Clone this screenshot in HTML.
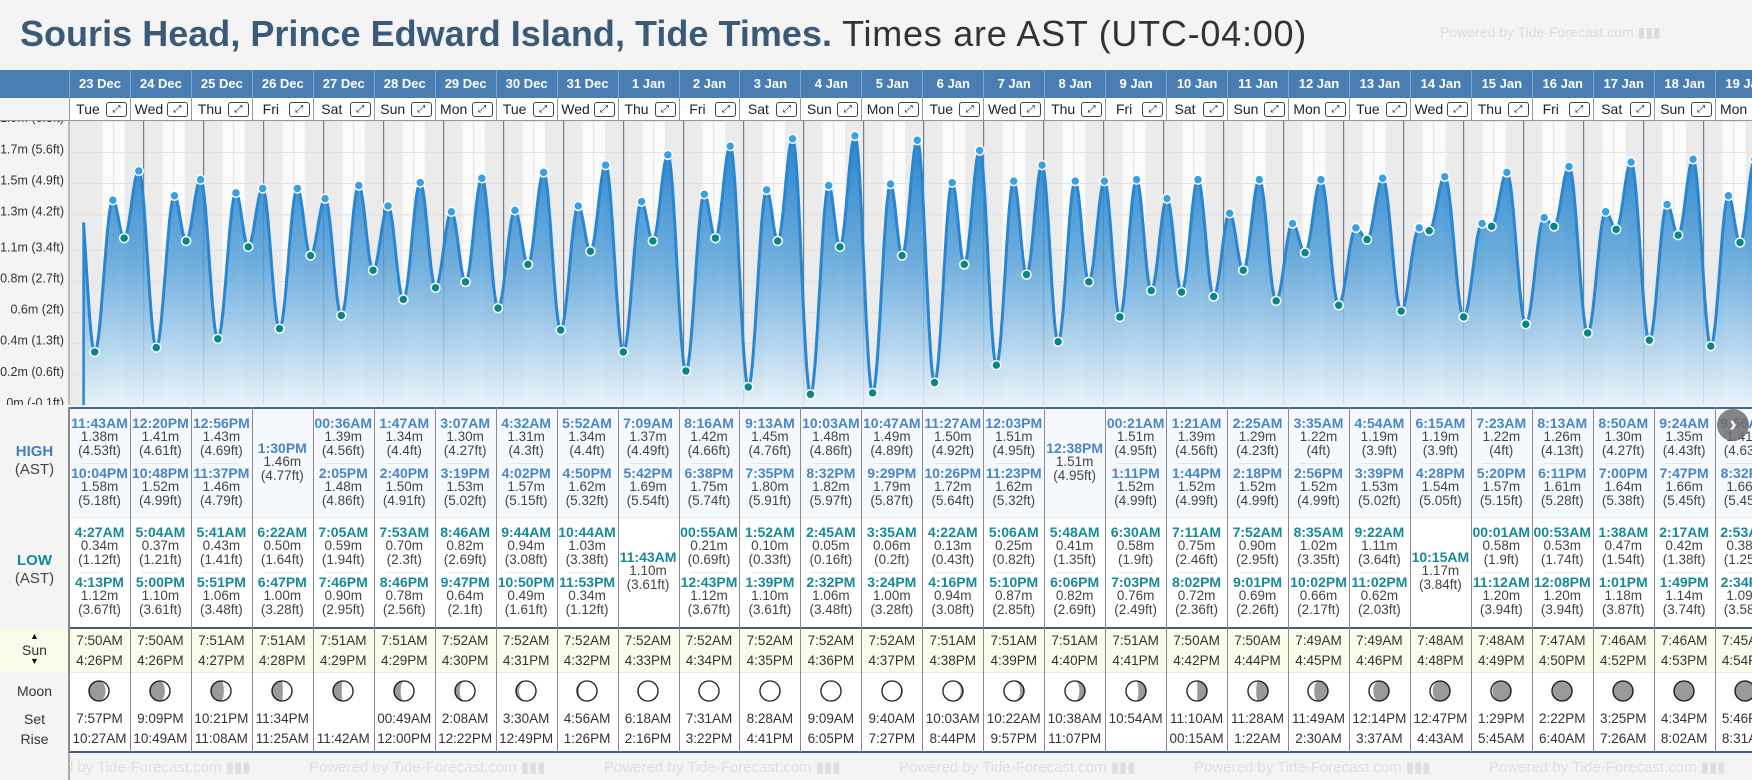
<!DOCTYPE html>
<html><head><meta charset="utf-8">
<style>
*{box-sizing:border-box;margin:0;padding:0}
body{width:1752px;height:780px;overflow:hidden;background:#f4f4f4;font-family:"Liberation Sans",Arial,sans-serif}
#root{position:relative;width:1752px;height:780px;overflow:hidden;background:#f4f4f4}
.a{position:absolute;white-space:nowrap}
.c{text-align:center}
</style></head>
<body>
<div id="root">
<div class="a" id="title" style="left:20px;top:13px;font-size:36px;line-height:42px"><span id="t1" style="font-weight:bold;color:#3b5a78">Souris Head, Prince Edward Island, Tide Times.</span><span id="t2" style="color:#333"> Times are AST (UTC-04:00)</span></div>
<div class="a" style="left:1440px;top:24px;font-size:14px;color:#dcdcdc">Powered by Tide-Forecast.com ▮▮▮</div>
<svg id="chart" class="a" style="left:0;top:0" width="1752" height="780"></svg>
</div>
<script>
const dates=['23 Dec','24 Dec','25 Dec','26 Dec','27 Dec','28 Dec','29 Dec','30 Dec','31 Dec','1 Jan','2 Jan','3 Jan','4 Jan','5 Jan','6 Jan','7 Jan','8 Jan','9 Jan','10 Jan','11 Jan','12 Jan','13 Jan','14 Jan','15 Jan','16 Jan','17 Jan','18 Jan','19 Jan'];
const weekdays=['Tue','Wed','Thu','Fri','Sat','Sun','Mon','Tue','Wed','Thu','Fri','Sat','Sun','Mon','Tue','Wed','Thu','Fri','Sat','Sun','Mon','Tue','Wed','Thu','Fri','Sat','Sun','Mon'];
const highTimes=[['11:43AM','10:04PM'],['12:20PM','10:48PM'],['12:56PM','11:37PM'],['1:30PM'],['00:36AM','2:05PM'],['1:47AM','2:40PM'],['3:07AM','3:19PM'],['4:32AM','4:02PM'],['5:52AM','4:50PM'],['7:09AM','5:42PM'],['8:16AM','6:38PM'],['9:13AM','7:35PM'],['10:03AM','8:32PM'],['10:47AM','9:29PM'],['11:27AM','10:26PM'],['12:03PM','11:23PM'],['12:38PM'],['00:21AM','1:11PM'],['1:21AM','1:44PM'],['2:25AM','2:18PM'],['3:35AM','2:56PM'],['4:54AM','3:39PM'],['6:15AM','4:28PM'],['7:23AM','5:20PM'],['8:13AM','6:11PM'],['8:50AM','7:00PM'],['9:24AM','7:47PM'],['9:56AM','8:32PM']];
const highM=[[1.38,1.58],[1.41,1.52],[1.43,1.46],[1.46],[1.39,1.48],[1.34,1.50],[1.30,1.53],[1.31,1.57],[1.34,1.62],[1.37,1.69],[1.42,1.75],[1.45,1.80],[1.48,1.82],[1.49,1.79],[1.50,1.72],[1.51,1.62],[1.51],[1.51,1.52],[1.39,1.52],[1.29,1.52],[1.22,1.52],[1.19,1.53],[1.19,1.54],[1.22,1.57],[1.26,1.61],[1.30,1.64],[1.35,1.66],[1.41,1.66]];
const lowTimes=[['4:27AM','4:13PM'],['5:04AM','5:00PM'],['5:41AM','5:51PM'],['6:22AM','6:47PM'],['7:05AM','7:46PM'],['7:53AM','8:46PM'],['8:46AM','9:47PM'],['9:44AM','10:50PM'],['10:44AM','11:53PM'],['11:43AM'],['00:55AM','12:43PM'],['1:52AM','1:39PM'],['2:45AM','2:32PM'],['3:35AM','3:24PM'],['4:22AM','4:16PM'],['5:06AM','5:10PM'],['5:48AM','6:06PM'],['6:30AM','7:03PM'],['7:11AM','8:02PM'],['7:52AM','9:01PM'],['8:35AM','10:02PM'],['9:22AM','11:02PM'],['10:15AM'],['00:01AM','11:12AM'],['00:53AM','12:08PM'],['1:38AM','1:01PM'],['2:17AM','1:49PM'],['2:53AM','2:34PM']];
const lowM=[[0.34,1.12],[0.37,1.10],[0.43,1.06],[0.50,1.00],[0.59,0.90],[0.70,0.78],[0.82,0.64],[0.94,0.49],[1.03,0.34],[1.10],[0.21,1.12],[0.10,1.10],[0.05,1.06],[0.06,1.00],[0.13,0.94],[0.25,0.87],[0.41,0.82],[0.58,0.76],[0.75,0.72],[0.90,0.69],[1.02,0.66],[1.11,0.62],[1.17],[0.58,1.20],[0.53,1.20],[0.47,1.18],[0.42,1.14],[0.38,1.09]];
const lowFt=[['1.12','3.67'],['1.21','3.61'],['1.41','3.48'],['1.64','3.28'],['1.94','2.95'],['2.3','2.56'],['2.69','2.1'],['3.08','1.61'],['3.38','1.12'],['3.61'],['0.69','3.67'],['0.33','3.61'],['0.16','3.48'],['0.2','3.28'],['0.43','3.08'],['0.82','2.85'],['1.35','2.69'],['1.9','2.49'],['2.46','2.36'],['2.95','2.26'],['3.35','2.17'],['3.64','2.03'],['3.84'],['1.9','3.94'],['1.74','3.94'],['1.54','3.87'],['1.38','3.74'],['1.25','3.58']];
const highFt=[['4.53','5.18'],['4.61','4.99'],['4.69','4.79'],['4.77'],['4.56','4.86'],['4.4','4.91'],['4.27','5.02'],['4.3','5.15'],['4.4','5.32'],['4.49','5.54'],['4.66','5.74'],['4.76','5.91'],['4.86','5.97'],['4.89','5.87'],['4.92','5.64'],['4.95','5.32'],['4.95'],['4.95','4.99'],['4.56','4.99'],['4.23','4.99'],['4','4.99'],['3.9','5.02'],['3.9','5.05'],['4','5.15'],['4.13','5.28'],['4.27','5.38'],['4.43','5.45'],['4.63','5.45']];
const sunRise=['7:50AM','7:50AM','7:51AM','7:51AM','7:51AM','7:51AM','7:52AM','7:52AM','7:52AM','7:52AM','7:52AM','7:52AM','7:52AM','7:52AM','7:51AM','7:51AM','7:51AM','7:51AM','7:50AM','7:50AM','7:49AM','7:49AM','7:48AM','7:48AM','7:47AM','7:46AM','7:46AM','7:45AM'];
const sunSet=['4:26PM','4:26PM','4:27PM','4:28PM','4:29PM','4:29PM','4:30PM','4:31PM','4:32PM','4:33PM','4:34PM','4:35PM','4:36PM','4:37PM','4:38PM','4:39PM','4:40PM','4:41PM','4:42PM','4:44PM','4:45PM','4:46PM','4:48PM','4:49PM','4:50PM','4:52PM','4:53PM','4:54PM'];
const moonSet=['7:57PM','9:09PM','10:21PM','11:34PM','','00:49AM','2:08AM','3:30AM','4:56AM','6:18AM','7:31AM','8:28AM','9:09AM','9:40AM','10:03AM','10:22AM','10:38AM','10:54AM','11:10AM','11:28AM','11:49AM','12:14PM','12:47PM','1:29PM','2:22PM','3:25PM','4:34PM','5:46PM'];
const moonRise=['10:27AM','10:49AM','11:08AM','11:25AM','11:42AM','12:00PM','12:22PM','12:49PM','1:26PM','2:16PM','3:22PM','4:41PM','6:05PM','7:27PM','8:44PM','9:57PM','11:07PM','','00:15AM','1:22AM','2:30AM','3:37AM','4:43AM','5:45AM','6:40AM','7:26AM','8:02AM','8:31AM'];
const moonAge=[4,5,6,7,8,9,10,11,12,13,14,15,16,17,18,19,20,21,22,23,24,25,26,27,28,29,0,1];
const prevHigh=[-2.7,1.63];
const nextLow=[27*24+27.5,0.36];
const tickFt=[-0.1,0.6,1.3,2,2.7,3.4,4.2,4.9,5.6,6.3];
const tickLabels=['0m (-0.1ft)','0.2m (0.6ft)','0.4m (1.3ft)','0.6m (2ft)','0.8m (2.7ft)','1.1m (3.4ft)','1.3m (4.2ft)','1.5m (4.9ft)','1.7m (5.6ft)','1.9m (6.3ft)'];

const root=document.getElementById('root');
const svg=document.getElementById('chart');
const NS='http://www.w3.org/2000/svg';
const X0=83.6,PXH=2.5,COL0=69,COLW=60.95;
const CT=121,CB=405;
function xOf(t){return X0+PXH*t;}
function yOf(h){return 401.6-146*h;}
function colX(d){return COL0+COLW*d;}
function parseT(s){const m=s.match(/(\d+):(\d+)(AM|PM)/);let h=(+m[1])%12;if(m[3]==='PM')h+=12;return h+(+m[2])/60;}
function sv(tag,attrs){const e=document.createElementNS(NS,tag);for(const k in attrs)e.setAttribute(k,attrs[k]);return e;}
function div(css,txt){const e=document.createElement('div');e.className='a';e.style.cssText=css;if(txt!==undefined)e.textContent=txt;root.appendChild(e);return e;}

(function(){const t1=document.getElementById('t1'),t2=document.getElementById('t2');
const w1=t1.getBoundingClientRect().width;t1.style.letterSpacing=((812-w1)/t1.textContent.length)+'px';
const w2=t2.getBoundingClientRect().width;t2.style.letterSpacing=((475-w2)/t2.textContent.length)+'px';})();

const defs=sv('defs',{});
const cp=sv('clipPath',{id:'clip'});cp.appendChild(sv('rect',{x:COL0,y:CT,width:1752-COL0,height:CB-CT}));defs.appendChild(cp);
const cpl=sv('clipPath',{id:'clipL'});cpl.appendChild(sv('rect',{x:0,y:CT,width:COL0,height:CB-CT}));defs.appendChild(cpl);
const lg=sv('linearGradient',{id:'fillg',x1:0,y1:0,x2:0,y2:1,gradientUnits:'objectBoundingBox'});
lg.appendChild(sv('stop',{offset:'0','stop-color':'#1f7fcc','stop-opacity':'0.95'}));
lg.appendChild(sv('stop',{offset:'0.45','stop-color':'#4a9ad6','stop-opacity':'0.8'}));
lg.appendChild(sv('stop',{offset:'1','stop-color':'#e6f2fb','stop-opacity':'0.85'}));
defs.appendChild(lg);svg.appendChild(defs);

const yax=sv('rect',{x:0,y:CT,width:COL0,height:CB-CT,fill:'#f4f4f4'});


svg.appendChild(yax);
const g=sv('g',{'clip-path':'url(#clip)'});


svg.appendChild(g);
const bg0=sv('rect',{x:COL0,y:CT,width:1752-COL0,height:CB-CT,fill:'#ebebeb'});


g.appendChild(bg0);
for(let d=0;d<dates.length;d++){
  const r=parseT(sunRise[d]),s=parseT(sunSet[d]);
  const day=sv('rect',{x:xOf(d*24+r),y:CT,width:PXH*(s-r),height:CB-CT,fill:'#fbfbfb'});
  
  
  g.appendChild(day);
  const tw1=sv('rect',{x:xOf(d*24+r-0.5),y:CT,width:PXH*0.5,height:CB-CT,fill:'#f3f3f3'});
  
  
  g.appendChild(tw1);
}
for(let k=0;k<tickFt.length;k++){
  const y=yOf(tickFt[k]/3.2808);
  const gl=sv('line',{x1:COL0,x2:1752,y1:y,y2:y,stroke:'#e2e2e2','stroke-width':1});
  
  
  g.appendChild(gl);
  const tl=sv('text',{x:64,y:y+1,'text-anchor':'end','font-size':'12.5','fill':'#333','font-family':'Liberation Sans, sans-serif','clip-path':'url(#clipL)'});
  tl.textContent=tickLabels[k];
  
  
  svg.appendChild(tl);
}
for(let d=0;d<=dates.length;d++){
  const xn=xOf(d*24+12);
  const nl=sv('line',{x1:xn,x2:xn,y1:CT,y2:CB,stroke:'#e4e4e4','stroke-width':1});
  
  
  g.appendChild(nl);
  if(d>0){const xm=xOf(d*24);
  const ml=sv('line',{x1:xm,x2:xm,y1:CT,y2:CB,stroke:'#6f7f8f','stroke-width':1.2});
  
  
  g.appendChild(ml);}
}
const ev=[{t:prevHigh[0],h:prevHigh[1],type:'x'}];
for(let d=0;d<dates.length;d++){
  highTimes[d].forEach((s,i)=>ev.push({t:d*24+parseT(s),h:highM[d][i],type:'high'}));
  lowTimes[d].forEach((s,i)=>ev.push({t:d*24+parseT(s),h:lowM[d][i],type:'low'}));
}
ev.push({t:nextLow[0],h:nextLow[1],type:'x'});
ev.sort((a,b)=>a.t-b.t);
function hAt(t){for(let i=0;i<ev.length-1;i++){if(t>=ev[i].t&&t<=ev[i+1].t){const f=(t-ev[i].t)/(ev[i+1].t-ev[i].t);return ev[i].h+(ev[i+1].h-ev[i].h)*(1-Math.cos(Math.PI*f))/2;}}return ev[ev.length-1].h;}
const tEnd=(1760-X0)/PXH;
let pts=[];for(let t=0;t<=tEnd;t+=0.25)pts.push([xOf(t),yOf(hAt(t))]);
const lineD='M'+pts.map(p=>p[0].toFixed(1)+','+p[1].toFixed(1)).join('L');
const area=sv('path',{d:lineD+'L'+pts[pts.length-1][0].toFixed(1)+','+CB+'L'+X0+','+CB+'Z',fill:'url(#fillg)'});


g.appendChild(area);
const edge=sv('line',{x1:X0,x2:X0,y1:pts[0][1],y2:CB,stroke:'#2a86d0','stroke-width':2.5});


g.appendChild(edge);
const line=sv('path',{d:lineD,fill:'none',stroke:'#2a86d0','stroke-width':3,'stroke-linejoin':'round'});


g.appendChild(line);
ev.forEach(e=>{if(e.type==='x'||e.t<0)return;
  const c=sv('circle',{cx:xOf(e.t),cy:yOf(e.h),r:4.5,fill:e.type==='high'?'#3aa0e4':'#0c8585',stroke:'#fff','stroke-width':1.5});
  
  
  g.appendChild(c);
});
const yb=sv('line',{x1:COL0,x2:COL0,y1:CT,y2:CB,stroke:'#888','stroke-width':1});


svg.appendChild(yb);

const hb=div('left:0;top:70px;width:1752px;height:28px;background:#4a7db1');


const db=div('left:0;top:98px;width:1752px;height:23px;background:#fff;border-bottom:1px solid #999');


const dl=div('left:0;top:98px;width:69px;height:23px;background:#f4f4f4;border-bottom:1px solid #999');



const sHigh=div('left:0;top:407px;width:1752px;height:110px;background:#f5f9fd;border-top:2px solid #3d6a96');


const sLow=div('left:0;top:517px;width:1752px;height:110px;background:#fff;border-top:1px solid #e8e8e8');


const sSun=div('left:0;top:627px;width:1752px;height:46px;background:#fbfbea;border-top:2px solid #3f5f7f;border-bottom:1px solid #e8e8e8');


const sMoon=div('left:0;top:673px;width:1752px;height:80px;background:#fff;border-bottom:2px solid #3f5f7f');


const lc=div('left:0;top:407px;width:69px;height:373px;background:#f4f4f4;border-right:1px solid #888');


const lsun=div('left:0;top:629px;width:69px;height:43px;background:#fbfbea;border-right:1px solid #888');


const l1=div('left:0;top:443px;width:69px;font-size:15px;font-weight:bold;color:#3f7fc0','HIGH');l1.classList.add('c');


const l2=div('left:0;top:461px;width:69px;font-size:15px;color:#444','(AST)');l2.classList.add('c');


const l3=div('left:0;top:552px;width:69px;font-size:15px;font-weight:bold;color:#138a96','LOW');l3.classList.add('c');


const l4=div('left:0;top:570px;width:69px;font-size:15px;color:#444','(AST)');l4.classList.add('c');


const l5=div('left:0;top:632px;width:69px;font-size:9px;line-height:9px;color:#111','▲');l5.classList.add('c');


const l6=div('left:0;top:642px;width:69px;font-size:14px;color:#333','Sun');l6.classList.add('c');


const l7=div('left:0;top:657px;width:69px;font-size:9px;line-height:9px;color:#111','▼');l7.classList.add('c');


const l8=div('left:0;top:683px;width:69px;font-size:14px;color:#333','Moon');l8.classList.add('c');


const l9=div('left:0;top:711px;width:69px;font-size:14px;color:#333','Set');l9.classList.add('c');


const l10=div('left:0;top:731px;width:69px;font-size:14px;color:#333','Rise');l10.classList.add('c');



function entry(x,w,yc,time,m,ft,color,kind){
  const a=div('left:'+x+'px;top:'+(yc-8)+'px;width:'+w+'px;font-size:14px;font-weight:bold;color:'+color,time);a.classList.add('c');
  
  
  const b=div('left:'+x+'px;top:'+(yc+6)+'px;width:'+w+'px;font-size:13.5px;color:#444',m.toFixed(2)+'m');b.classList.add('c');
  
  
  const c=div('left:'+x+'px;top:'+(yc+20)+'px;width:'+w+'px;font-size:13.5px;color:#444','('+ft+'ft)');c.classList.add('c');
  
  
}
function moonSvg(age){
  const r=10,k=(1-Math.cos(2*Math.PI*age/29.53))/2,rx=r*Math.abs(1-2*k);
  const waning=age>14.77;
  const s=k<0.5?0:1;
  return '<svg width="24" height="24" viewBox="-12 -12 24 24"><circle r="10" fill="#9a9a9a" stroke="#222" stroke-width="1.3"/><path transform="'+(waning?'scale(-1,1)':'')+'" d="M0,-10 A10 10 0 0 1 0,10 A'+rx.toFixed(2)+' 10 0 0 '+s+' 0,-10Z" fill="#fff"/><circle r="10" fill="none" stroke="#222" stroke-width="1.3"/></svg>';
}
for(let d=0;d<dates.length;d++){
  const x=colX(d),w=COLW;
  const hd=div('left:'+x+'px;top:70px;width:'+w+'px;height:28px;line-height:28px;font-size:13px;font-weight:bold;color:#fff;border-left:1px solid #7ea4cc',dates[d]);hd.classList.add('c');
  
  
  const wd=div('left:'+x+'px;top:98px;width:'+(w-24)+'px;height:22px;line-height:22px;font-size:14px;color:#222;border-left:1px solid #999',weekdays[d]);wd.classList.add('c');
  
  
  const ex=div('left:'+(x+w-24)+'px;top:102px;width:21px;height:15px;border:1px solid #444;border-radius:3px;font-size:10px;line-height:13px;color:#111;background:#fff','⤢');ex.classList.add('c');
  
  
  const vl=div('left:'+x+'px;top:407px;width:1px;height:345px;background:#888');
  
  
  if(highTimes[d].length===2){
    entry(x,w,423,highTimes[d][0],highM[d][0],highFt[d][0],'#4a86c4','high-tide');
    entry(x,w,473,highTimes[d][1],highM[d][1],highFt[d][1],'#4a86c4','high-tide');
    const sp=div('left:'+(x+12)+'px;top:463px;width:'+(w-24)+'px;height:1px;background:#e6e6e6');
    
    
  } else entry(x,w,448,highTimes[d][0],highM[d][0],highFt[d][0],'#4a86c4','high-tide');
  if(lowTimes[d].length===2){
    entry(x,w,532,lowTimes[d][0],lowM[d][0],lowFt[d][0],'#178a98','low-tide');
    entry(x,w,582,lowTimes[d][1],lowM[d][1],lowFt[d][1],'#178a98','low-tide');
    const sp=div('left:'+(x+12)+'px;top:572px;width:'+(w-24)+'px;height:1px;background:#e6e6e6');
    
    
  } else entry(x,w,557,lowTimes[d][0],lowM[d][0],lowFt[d][0],'#178a98','low-tide');
  const sr=div('left:'+x+'px;top:633px;width:'+w+'px;font-size:13.5px;color:#333',sunRise[d]);sr.classList.add('c');
  
  
  const ss=div('left:'+x+'px;top:653px;width:'+w+'px;font-size:13.5px;color:#333',sunSet[d]);ss.classList.add('c');
  
  
  const mi=div('left:'+(x+w/2-12)+'px;top:679px;width:24px;height:24px');
  mi.innerHTML=moonSvg(moonAge[d]);
  
  
  const ms=div('left:'+x+'px;top:711px;width:'+w+'px;font-size:13.5px;color:#333',moonSet[d]);ms.classList.add('c');
  
  
  const mr=div('left:'+x+'px;top:731px;width:'+w+'px;font-size:13.5px;color:#333',moonRise[d]);mr.classList.add('c');
  
  
}
const ft=div('left:69px;top:754px;width:1683px;height:26px;background:#f4f4f4;border-left:1px solid #aaa');


for(let i=0;i<7;i++){
  const p=div('left:'+(14+i*295)+'px;top:758px;font-size:15px;color:#e0e0e0','Powered by Tide-Forecast.com ▮▮▮');
  
  
}
const fl=div('left:0;top:754px;width:69px;height:26px;background:#f4f4f4;border-right:1px solid #aaa');


const nb=div('left:1717px;top:409px;width:32px;height:32px;border-radius:50%;background:rgba(110,110,110,0.85);color:#fff;font-size:22px;line-height:30px;font-weight:bold;text-align:center','›');


</script>
</body></html>
